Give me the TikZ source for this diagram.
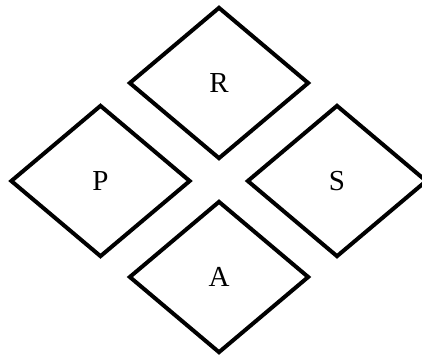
\documentclass[tikz,border=0pt]{standalone}
\usepackage{fontspec}
\setmainfont{Liberation Serif}
\usetikzlibrary{shapes.geometric}
\tikzset{rhombus/.style={diamond, draw=black, line width=4pt, inner sep=0pt,
    minimum width=180pt, minimum height=152pt, font=\fontsize{29}{32}\selectfont}}

\begin{document}
\begin{tikzpicture}[x=1pt,y=1pt]
      \useasboundingbox (0,0) rectangle (422,356);
      \node[rhombus] (r) at (219,273) {R};
      \node[rhombus] (p) at (100.5,175) {P};
      \node[rhombus] (s) at (337,175) {S};
      \node[rhombus] (a) at (219,79) {A};
    \end{tikzpicture}
\end{document}
